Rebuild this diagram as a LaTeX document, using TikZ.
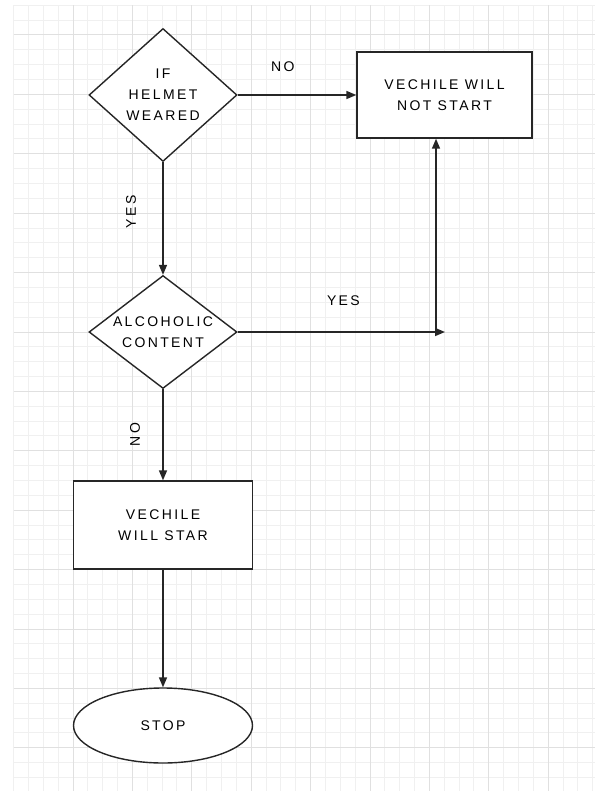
\documentclass[tikz,border=0pt]{standalone}
\usepackage{fontspec}
\setmainfont{Liberation Sans}[LetterSpace=17]
\usetikzlibrary{positioning, arrows.meta, shapes.geometric, calc}

\begin{document}
\begin{tikzpicture}[
    x=1pt, y=-1pt,
    font=\fontsize{14}{21}\selectfont,
    flow/.style={draw=black!85, line width=1.6pt, -{Triangle[length=10pt, width=8pt]}},
    dec/.style={draw=black!85, line width=1.4pt, diamond, fill=white, align=center,
                inner sep=0pt, minimum width=148pt},
    proc/.style={draw=black!85, line width=1.4pt, rectangle, fill=white,
                 align=center, inner sep=0pt},
    term/.style={draw=black!85, line width=1.4pt, ellipse, fill=white,
                 minimum width=179pt, minimum height=75pt},
    lbl/.style={font=\fontsize{14}{14}\selectfont, inner sep=0pt},
    minor/.style={draw=black!6, line width=1pt},
    major/.style={draw=black!12, line width=1pt},
  ]

\useasboundingbox (0,0) rectangle (595,791);

% grid paper
\foreach \i in {0,...,39} {
    \draw[minor] ({13.6+14.85*\i},5.3) -- ({13.6+14.85*\i},791);
}
\foreach \i in {0,...,52} {
    \draw[minor] (13.6,{5.3+14.85*\i}) -- (595,{5.3+14.85*\i});
}
\foreach \i in {0,...,8} {
    \draw[major] ({73+59.4*\i},5.3) -- ({73+59.4*\i},791);
}
\foreach \i in {0,...,12} {
    \draw[major] (13.6,{35+59.4*\i}) -- (595,{35+59.4*\i});
}

\node[dec, minimum height=133pt, aspect=1.1] (helmet) at (163,95) {IF\\HELMET\\WEARED};
\node[proc, minimum width=175pt, minimum height=86pt] (nostart) at (444.5,95) {VECHILE WILL\\NOT START};
\node[dec, minimum height=113pt, aspect=1.3] (alcohol) at (163,332) {ALCOHOLIC\\CONTENT};
\node[proc, minimum width=179pt, minimum height=88pt] (willstart) at (163,525) {VECHILE\\WILL STAR};
\node[term] (stop) at (163,725.5) {STOP};

\coordinate (tip) at (445,332);
\coordinate (corner) at (436,332);

\draw[flow] (helmet.east) -- (nostart.west) node[lbl, pos=0.38, above=23pt] {NO};
\draw[flow] (helmet.south) -- (alcohol.north);
\node[lbl, rotate=90] (yes1) at ($(helmet.south)!0.44!(alcohol.north) + (-32,0)$) {YES};
\draw[flow] (alcohol.east) -- (tip) node[lbl, pos=0.51, above=26pt] {YES};
\draw[flow] (corner) -- (corner |- nostart.south);
\draw[flow] (alcohol.south) -- (willstart.north);
\node[lbl, rotate=90] (no2) at ($(alcohol.south)!0.5!(willstart.north) + (-28,0)$) {NO};
\draw[flow] (willstart.south) -- (stop.north);
\end{tikzpicture}
\end{document}
